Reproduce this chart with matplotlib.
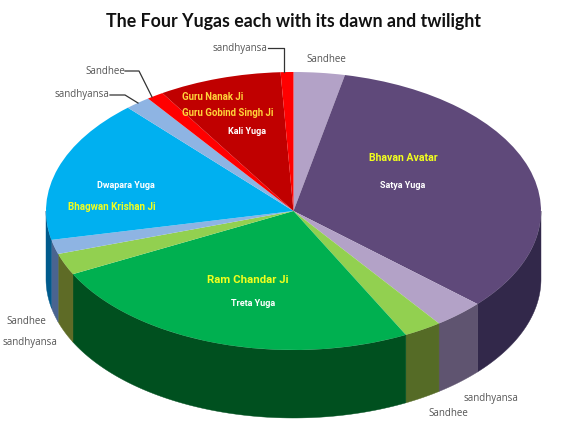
import matplotlib
matplotlib.use("Agg")
import matplotlib.pyplot as plt
import numpy as np

W, H = 582, 430
# pie centre and radii in pixels
CX, CY, RX, RY, DEPTH = 293.5, 211, 247.5, 139, 68

# slice sizes in degrees, clockwise from 12 o'clock
slices = ["Sandhee", "Satya Yuga", "sandhyansa", "Sandhee", "Treta Yuga", "Sandhee",
          "sandhyansa", "Dwapara Yuga", "sandhyansa", "Sandhee", "Kali Yuga", "sandhyansa"]
values = [12, 120, 12, 9, 90, 9, 6, 60, 6, 4, 29, 3]
top_colors = ["#B3A2C7", "#5F497A", "#B3A2C7", "#92D050", "#00B050", "#92D050",
              "#8EB4E3", "#00B0F0", "#8EB4E3", "#FF0000", "#C00000", "#FF0000"]
side_colors = ["#5F5470", "#32284A", "#5F5470", "#556B26", "#00501F", "#5E6B26",
               "#4A6490", "#005A8C", "#4A6490", "#A00000", "#700000", "#A00000"]


def label(px, py, s, **kw):
    # place text by pixel position in the image
    kw.setdefault("ha", "center")
    kw.setdefault("va", "center")
    fig.text(px / W, 1 - py / H, s, **kw)


def leader(xs, ys):
    fig.add_artist(plt.Line2D([x / W for x in xs], [1 - y / H for y in ys],
                              color="#333333", lw=0.9))


fig = plt.figure(figsize=(W / 100, H / 100), dpi=100, facecolor="white")
ax = fig.add_axes([0, 0, 1, 1])

ax.pie(values, colors=top_colors, startangle=90, counterclock=False, radius=1,
       wedgeprops={"linewidth": 0, "zorder": 3})

# side wall, only the front half of the rim shows
depth = DEPTH / RY
edges = np.cumsum([0] + values)
for start, end, col in zip(edges[:-1], edges[1:], side_colors):
    a, b = max(start, 90), min(end, 270)
    if a >= b:
        continue
    t = np.radians(np.linspace(a, b, 80))
    x, y = np.sin(t), np.cos(t)
    ax.fill(np.r_[x, x[::-1]], np.r_[y, y[::-1] - depth], color=col, lw=0.3, zorder=2)

ax.set_aspect("auto")
ax.set_xlim(-CX / RX, (W - CX) / RX)
ax.set_ylim((CY - H) / RY, CY / RY)
ax.axis("off")

label(294, 22, "The Four Yugas each with its dawn and twilight",
      fontsize=12.8, fontweight="bold", family="Lato", color="#111111")

grey = dict(fontsize=7, family="Open Sans", color="#555555")
label(240, 49, "sandhyansa", **grey)
label(326, 60, "Sandhee", **grey)
label(105, 71, "Sandhee", **grey)
label(82, 95, "sandhyansa", **grey)
label(26, 321, "Sandhee", **grey)
label(30, 342, "sandhyansa", **grey)
label(491, 398, "sandhyansa", **grey)
label(448, 414, "Sandhee", **grey)

leader([268, 284, 284], [48, 48, 72])
leader([125, 139, 152], [71, 71, 97])
leader([110, 125, 138], [95, 95, 103])

white = dict(color="white", fontweight="bold", family="Roboto")
label(247, 132, "Kali Yuga", fontsize=6.5, **white)
label(126, 186, "Dwapara Yuga", fontsize=6.5, **white)
label(403, 186, "Satya Yuga", fontsize=6.5, **white)
label(253, 304, "Treta Yuga", fontsize=6.5, **white)

gold = dict(color="#FFD43A", fontweight="bold", family="Roboto", fontsize=6.9)
label(213, 97, "Guru Nanak Ji", **gold)
label(228, 113, "Guru Gobind Singh Ji", **gold)

yellow = dict(color="#F2FF1E", fontweight="bold", family="Roboto")
label(112, 207, "Bhagwan Krishan Ji", fontsize=7.1, **yellow)
label(403, 158, "Bhavan Avatar", fontsize=7.6, **yellow)
label(248, 280, "Ram Chandar Ji", fontsize=8.2, **yellow)

fig.savefig("out.png", dpi=100, facecolor="white")
plt.close(fig)
